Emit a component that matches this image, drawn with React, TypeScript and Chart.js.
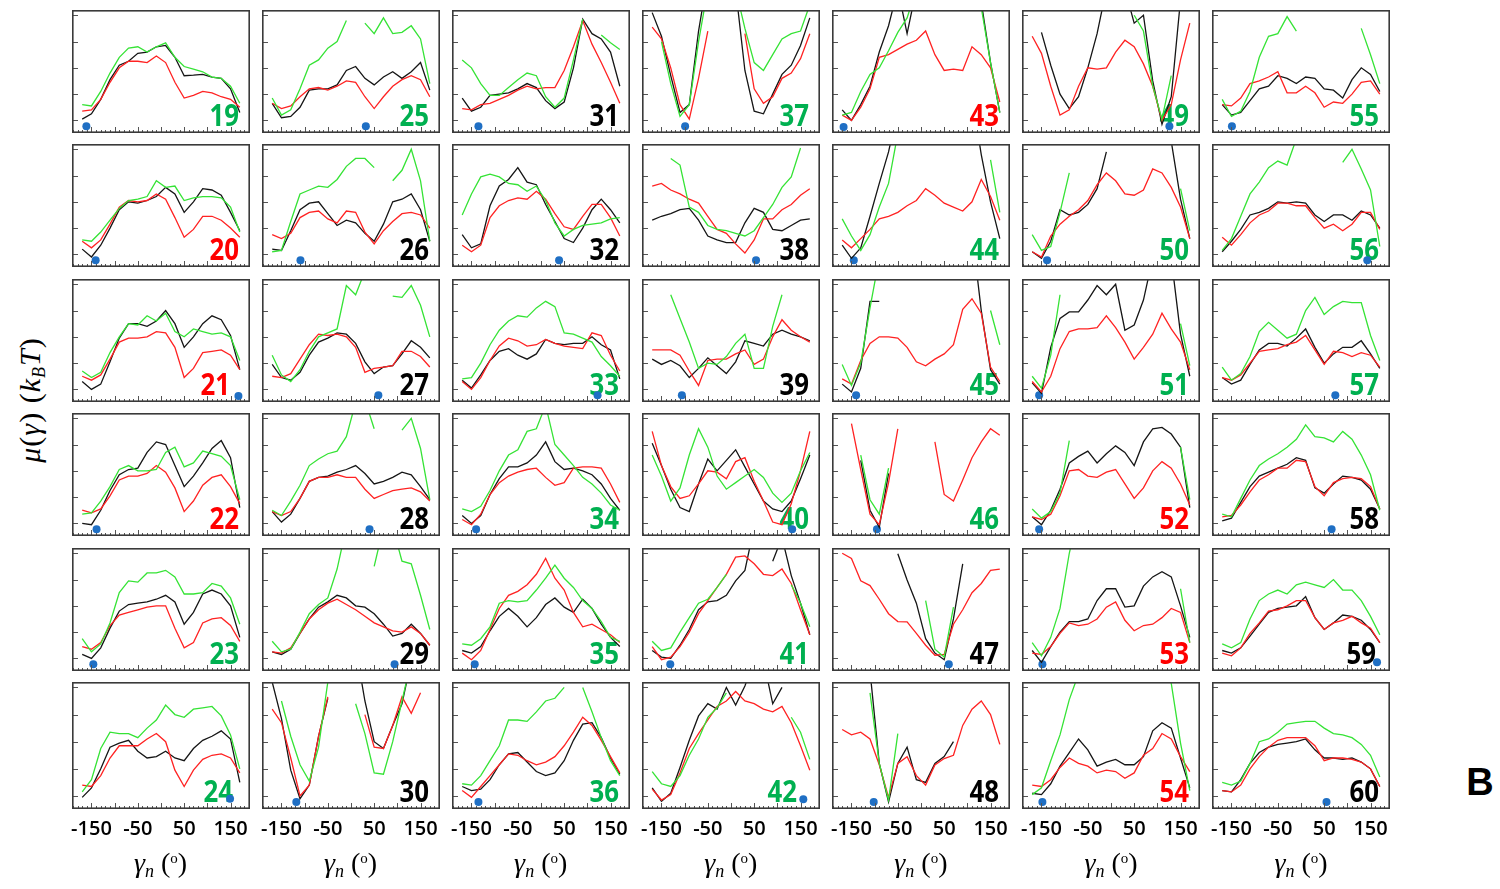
import React, { useEffect, useRef } from "react";
import { Chart, registerables } from "chart.js";
Chart.register(...registerables);

const _ = null;
const ANGLES = [-170, -150, -130, -110, -90, -70, -50, -30, -10, 10, 30, 50, 70, 90, 110, 130, 150, 170];
const X_TICK_LABELS = [-150, -50, 50, 150];
const Y_TICK_VALUES = [0, 1, 2, 3, 4];
const X_MIN = -192, X_MAX = 192, Y_MIN = -0.48, Y_MAX = 4.2;

// ---- series (black / red / green) per panel ----
const p19k = [0.05,0.25,0.8,1.55,2.1,2.25,2.55,2.6,2.8,2.85,2.4,1.7,1.72,1.75,1.65,1.6,1.2,0.3];
const p19r = [0.35,0.4,0.8,1.45,2.0,2.25,2.25,2.2,2.45,2.2,1.45,0.85,0.95,1.1,1.05,0.9,0.8,0.5];
const p19g = [0.6,0.55,1.1,1.8,2.4,2.75,2.8,2.6,2.8,2.95,2.4,2.05,1.95,1.85,1.65,1.6,1.3,0.65];
const p20k = [0.2,-0.1,0.35,1.0,1.7,2.0,1.95,2.05,2.2,2.55,2.3,1.6,2.0,2.5,2.45,2.25,1.6,0.9];
const p20r = [0.5,0.25,0.55,1.15,1.8,2.05,2.0,2.05,2.3,2.1,1.4,0.65,0.95,1.45,1.45,1.3,1.0,0.65];
const p20g = [0.55,0.5,0.85,1.3,1.75,2.05,2.1,2.2,2.8,2.55,2.6,2.05,2.15,2.2,2.2,2.15,1.8,0.85];
const p21k = [0.3,0.0,0.2,1.05,1.95,2.5,2.5,2.4,2.6,3.0,2.5,1.6,2.0,2.5,2.8,2.65,2.05,0.75];
const p21r = [0.5,0.35,0.55,1.15,1.8,1.95,1.95,2.0,2.2,2.15,1.6,0.45,0.8,1.4,1.45,1.5,1.3,0.75];
const p21g = [0.7,0.45,0.65,1.4,2.0,2.5,2.45,2.8,2.6,2.9,2.2,2.0,2.3,2.2,2.1,2.15,2.0,1.1];
const p22k = [0.0,-0.05,0.5,1.25,1.85,2.05,2.1,2.7,3.1,3.0,2.2,1.4,1.8,2.3,2.85,3.15,2.5,0.6];
const p22r = [0.5,0.4,0.55,1.05,1.65,1.8,1.8,1.9,2.2,1.95,1.35,0.45,0.85,1.45,1.75,1.85,1.4,0.75];
const p22g = [0.35,0.4,0.85,1.4,2.05,2.2,2.0,2.0,2.05,2.7,2.9,2.15,2.3,2.75,2.65,2.55,2.2,0.9];
const p23k = [0.15,0.0,0.4,1.15,1.8,2.05,2.1,2.15,2.25,2.4,2.15,1.3,1.75,2.45,2.6,2.45,2.0,0.8];
const p23r = [0.45,0.35,0.6,1.25,1.65,1.75,1.85,1.95,2.0,2.0,1.15,0.4,0.6,1.35,1.5,1.55,1.25,0.65];
const p23g = [0.75,0.25,0.55,1.35,2.5,2.95,2.9,3.25,3.25,3.35,3.1,2.45,2.45,2.5,2.85,2.75,2.3,1.3];
const p24k = [-0.05,0.3,1.0,1.8,1.95,2.05,1.65,1.4,1.45,1.65,1.4,1.3,1.75,2.05,2.2,2.4,2.1,0.5];
const p24r = [0.4,0.35,0.75,1.4,1.85,1.85,1.85,2.1,2.3,2.0,0.95,0.35,0.95,1.35,1.5,1.55,1.4,0.85];
const p24g = [0.15,0.6,1.75,2.35,2.3,2.3,2.15,2.5,2.8,3.35,3.0,2.9,3.2,3.25,3.3,2.95,2.25,1.0];
const p25k = [0.65,0.1,0.15,0.5,1.15,1.2,1.2,1.35,1.9,2.05,1.6,1.35,1.65,1.85,1.6,1.85,2.2,1.15];
const p25r = [0.65,0.45,0.55,0.9,1.2,1.25,1.15,1.3,1.5,1.45,0.9,0.45,0.9,1.3,1.55,1.7,1.55,0.9];
const p25g = [0.85,0.2,0.4,1.2,2.1,2.3,2.75,3.0,3.8,_,3.7,3.3,3.9,3.3,3.35,3.6,3.1,1.4];
const p26k = [0.2,0.15,0.9,1.7,1.95,2.0,1.55,1.1,1.3,1.2,0.8,0.5,1.15,2.0,2.1,2.3,1.7,0.5];
const p26r = [0.75,0.6,0.8,1.4,1.6,1.65,1.35,1.2,1.65,1.6,0.85,0.4,0.9,1.25,1.55,1.6,1.5,1.0];
const p26g = [0.1,0.15,1.25,2.3,2.45,2.6,2.55,2.85,3.35,3.65,3.65,3.3,_,2.8,3.2,4.0,2.8,0.5];
const p27k = [0.95,0.45,0.35,0.65,1.3,1.8,1.95,2.15,2.1,1.75,1.05,0.6,0.85,0.9,1.35,1.85,1.6,1.2];
const p27r = [0.5,0.45,0.6,1.15,1.7,2.1,2.05,2.1,2.0,1.6,0.65,0.8,0.85,0.9,1.45,1.45,1.25,0.85];
const p27g = [1.3,0.55,0.3,0.75,1.45,2.0,2.15,2.3,3.95,3.6,4.5,_,_,3.55,3.5,3.95,3.2,2.0];
const p28k = [0.45,0.05,0.35,0.95,1.6,1.75,1.8,1.95,2.05,2.2,1.9,1.5,1.6,1.75,1.95,1.85,1.4,0.9];
const p28r = [0.45,0.3,0.45,0.95,1.6,1.75,1.75,1.85,1.75,1.75,1.3,0.95,1.1,1.25,1.3,1.35,1.2,0.85];
const p28g = [0.5,0.3,0.85,1.45,2.2,2.45,2.65,2.75,3.3,4.6,4.7,3.6,_,_,3.55,4.0,2.85,0.9];
const p29k = [0.25,0.15,0.35,0.95,1.5,1.95,2.15,2.4,2.3,2.0,1.95,1.7,1.3,0.85,0.95,1.3,0.95,0.5];
const p29r = [0.25,0.2,0.4,0.95,1.5,1.85,2.1,2.25,2.05,1.85,1.6,1.35,1.2,1.05,1.0,1.2,0.95,0.5];
const p29g = [0.65,0.25,0.35,1.0,1.7,2.05,2.3,3.4,5,5,_,3.5,5,5,3.7,3.6,2.4,1.1];
const p30k = [4.2,2.85,0.95,-0.1,0.4,2.2,3.6,_,_,5.5,3.5,2.0,1.75,2.6,3.4,5,_,_];
const p30r = [3.2,2.7,1.4,0.0,0.4,2.2,3.65,_,_,_,3.0,1.8,1.75,2.6,3.65,3.05,3.8,_];
const p30g = [_,3.5,2.2,1.15,0.55,1.8,4.2,_,_,3.4,2.3,0.85,0.8,2.0,3.5,5,_,_];
const p31k = [0.85,0.35,0.5,0.95,1.0,1.05,1.2,1.4,1.25,0.75,0.45,0.7,2.0,3.85,3.3,3.1,2.6,1.3];
const p31r = [0.45,0.4,0.6,0.65,0.8,0.95,1.15,1.3,1.2,1.25,1.25,1.9,2.8,3.8,2.9,2.2,1.45,0.65];
const p31g = [2.3,2.0,1.4,0.95,0.95,1.25,1.55,1.8,1.7,0.9,0.5,0.85,2.3,3.85,_,3.25,2.95,2.7];
const p32k = [0.75,0.25,0.4,1.85,2.6,2.85,3.3,2.75,2.65,1.9,1.25,0.6,0.45,1.0,1.7,2.1,1.7,1.2];
const p32r = [0.35,0.1,0.35,1.4,1.85,2.05,2.15,2.1,2.4,2.1,1.55,1.05,0.95,1.45,1.9,1.9,1.4,0.7];
const p32g = [1.5,2.3,2.95,3.05,2.95,2.7,2.65,2.4,2.6,2.05,1.2,0.7,0.95,1.1,1.15,1.2,1.35,1.4];
const p33k = [0.35,0.05,0.55,1.1,1.45,1.55,1.3,1.15,1.35,1.9,1.75,1.7,1.75,1.75,2.0,1.7,1.5,0.4];
const p33r = [0.3,0.0,0.45,1.1,1.65,1.95,1.85,1.65,1.7,1.9,1.75,1.65,1.6,1.55,2.15,2.05,1.3,0.7];
const p33g = [0.4,0.45,1.0,1.7,2.25,2.6,2.8,2.75,3.1,3.35,3.15,2.15,2.1,1.95,1.8,1.25,0.9,0.5];
const p34k = [0.3,0.0,0.3,1.1,1.7,2.15,2.15,2.3,2.6,3.1,2.35,2.05,2.1,2.0,1.85,1.5,0.95,0.5];
const p34r = [0.15,-0.05,0.35,1.1,1.55,1.8,1.95,2.05,2.1,1.75,1.45,1.55,2.1,2.15,2.15,2.1,1.5,0.8];
const p34g = [0.55,0.45,0.65,1.25,2.0,2.6,2.8,3.5,3.6,4.5,3.0,2.6,2.2,1.75,1.5,1.15,0.7,0.5];
const p35k = [0.3,0.2,0.45,1.05,1.6,1.9,1.6,1.2,1.55,2.05,2.3,1.95,1.75,2.25,1.9,1.3,0.8,0.45];
const p35r = [0.2,-0.05,0.3,1.1,1.9,2.4,2.55,2.8,3.2,3.8,3.05,2.6,1.75,1.2,1.3,1.1,0.9,0.6];
const p35g = [0.55,0.5,0.75,1.2,2.1,2.2,2.15,2.2,2.6,3.05,3.55,3.05,2.7,2.2,1.9,1.4,0.8,0.65];
const p36k = [0.35,0.2,0.25,0.6,1.15,1.55,1.6,1.25,0.9,0.75,0.85,1.3,2.05,2.65,2.7,2.15,1.4,0.8];
const p36r = [0.2,-0.05,0.35,0.75,1.15,1.55,1.5,1.3,1.15,1.25,1.45,1.85,2.35,2.9,2.6,2.05,1.45,0.85];
const p36g = [0.45,0.4,0.75,1.3,1.85,2.8,2.8,2.75,3.1,3.5,3.6,4.0,_,4.0,3.1,2.15,1.3,0.75];
const p37k = [4.1,3.2,1.7,0.3,0.6,3.4,5.5,6,6,5,1.9,0.35,0.25,1.0,1.75,2.1,2.85,3.9];
const p37r = [3.55,3.1,2.0,0.6,0.05,1.6,3.4,_,_,_,3.3,1.2,0.65,0.9,1.6,1.8,2.35,3.3];
const p37g = [_,3.0,1.4,0.15,0.6,3.0,5,6,6,5,3.5,2.2,1.9,2.5,3.1,3.3,3.4,4.4];
const p38k = [1.3,1.45,1.55,1.7,1.75,1.3,0.7,0.55,0.45,0.45,1.2,1.75,1.6,0.95,0.9,1.1,1.3,1.35];
const p38r = [2.6,2.7,2.45,2.3,2.1,1.95,1.45,0.95,0.8,0.4,0.05,0.55,1.35,1.35,1.7,1.9,2.25,2.5];
const p38g = [_,_,3.65,3.4,1.8,1.6,1.1,0.95,0.9,0.8,0.7,0.9,1.4,1.9,2.55,2.95,4.05,_];
const p39k = [1.15,0.95,1.1,0.9,0.45,0.8,1.2,0.9,0.6,1.05,1.85,1.75,1.65,2.1,2.25,2.1,2.0,1.85];
const p39r = [1.5,1.5,1.5,1.3,0.7,0.15,1.1,1.15,1.15,1.35,1.5,0.95,1.15,2.0,2.65,2.25,2.0,1.8];
const p39g = [_,_,3.6,2.7,1.8,0.8,1.0,0.95,1.25,1.75,2.1,0.8,0.8,2.4,3.6,_,_,_];
const p40k = [3.05,2.2,1.3,0.6,0.45,1.5,2.45,2.0,2.4,2.8,2.15,1.5,0.85,0.55,0.45,0.85,1.7,2.6];
const p40r = [3.5,2.2,1.4,0.95,1.05,1.5,2.0,1.95,1.7,2.35,2.5,1.6,0.85,0.05,-0.05,0.75,2.0,3.5];
const p40g = [2.6,1.8,0.85,1.35,2.6,3.6,2.9,1.8,1.3,1.55,1.8,2.05,1.75,1.15,0.8,1.15,2.0,2.7];
const p41k = [0.3,0.05,0.0,0.5,1.1,1.85,2.15,2.2,2.4,2.95,3.35,5,_,3.7,4.6,3.15,2.1,0.9];
const p41r = [0.45,-0.05,0.05,0.45,1.0,1.7,2.2,2.7,3.2,3.85,3.9,3.6,3.2,3.15,3.4,2.85,1.85,0.9];
const p41g = [0.65,0.3,0.4,1.0,1.55,2.1,2.25,2.7,3.2,_,_,_,_,_,_,2.8,2.1,1.2];
const p42k = [0.3,-0.2,0.1,1.05,2.05,2.95,3.4,3.2,4.0,3.35,4.05,5,5,3.4,4.0,_,_,_];
const p42r = [0.25,-0.15,0.05,0.85,1.75,2.3,2.8,3.3,3.5,3.85,3.5,3.4,3.2,3.1,3.3,2.7,1.85,0.95];
const p42g = [0.9,0.45,0.35,0.75,1.5,2.1,2.9,3.25,3.8,_,_,_,_,_,_,2.9,2.35,1.35];
const p43k = [0.4,0.0,0.6,1.3,2.6,3.6,5,3.3,5,5,5,_,_,_,_,4.5,2.2,0.3];
const p43r = [0.2,0.0,0.5,1.2,2.4,2.5,2.7,2.9,3.05,3.4,2.5,1.9,1.95,1.9,2.8,2.5,2.0,0.7];
const p43g = [0.2,0.3,1.1,1.75,2.0,2.65,3.35,3.9,5,_,_,_,_,_,_,4.3,2.2,0.3];
const p44k = [0.35,-0.15,0.25,1.45,2.7,3.9,5.5,_,_,_,_,_,_,_,6,3.8,2.0,0.6];
const p44r = [0.55,0.25,0.6,0.95,1.35,1.45,1.6,1.85,2.05,2.5,2.25,1.95,1.8,1.65,2.0,2.85,2.2,1.3];
const p44g = [1.35,0.7,0.15,0.75,1.8,2.7,4.6,_,_,_,_,_,_,_,_,_,3.6,1.6];
const p45k = [0.2,-0.1,0.8,3.35,3.35,_,_,_,_,_,_,_,_,_,6,3.0,0.75,0.2];
const p45r = [0.4,0.2,1.1,1.75,2.0,2.0,1.95,1.6,1.05,0.9,1.15,1.35,1.7,3.05,3.45,2.9,0.85,0.3];
const p45g = [0.95,0.15,1.0,3.1,5,_,_,_,_,_,_,_,_,_,_,_,3.0,1.7];
const p46k = [_,_,2.4,0.5,-0.15,1.9,_,_,_,_,_,_,_,_,_,_,_,_];
const p46r = [_,3.8,2.05,0.35,-0.05,1.55,3.6,_,_,_,3.1,1.1,0.85,1.65,2.5,3.1,3.6,3.35];
const p46g = [_,_,2.6,0.9,0.35,2.1,_,_,_,_,_,_,_,_,_,_,_,_];
const p47k = [_,_,_,_,_,_,3.98,2.98,2.1,0.75,0.2,-0.05,1.5,3.6,_,_,_,_];
const p47r = [4.0,3.8,2.95,2.77,2.25,1.7,1.4,1.39,0.95,0.5,0.12,0.15,1.3,1.85,2.5,2.85,3.35,3.4];
const p47g = [_,_,_,_,_,_,_,_,_,2.2,0.35,0.05,1.95,_,_,_,_,_];
const p48k = [_,_,_,4.6,1.2,-0.22,1.2,1.8,0.6,0.5,1.2,1.45,2.0,_,_,_,_,_];
const p48r = [2.45,2.25,2.35,2.1,1.15,-0.05,1.2,1.45,0.75,0.4,1.14,1.38,1.5,2.6,3.2,3.5,3.0,1.9];
const p48g = [_,_,_,3.8,1.2,-0.15,2.3,_,_,_,_,_,_,_,_,_,_,_];
const p49k = [_,3.35,2.1,1.0,0.45,0.9,2.0,3.3,5,5,5,3.7,4.0,1.5,-0.15,0.9,4.6,_];
const p49r = [3.2,2.55,1.3,0.2,0.4,1.3,2.0,1.95,2.0,2.6,3.05,2.8,2.15,1.3,0.0,0.6,2.3,3.7];
const p49g = [_,_,_,_,_,_,_,_,_,_,_,4.0,3.4,1.3,0.05,1.7,_,_];
const p50k = [0.1,-0.15,0.5,1.7,1.5,1.6,1.9,2.5,3.9,_,_,_,_,_,_,4.3,2.1,0.6];
const p50r = [0.1,-0.1,0.7,1.15,1.45,1.7,2.05,2.65,3.1,2.8,2.3,2.25,2.45,3.25,3.1,2.55,1.8,0.6];
const p50g = [0.75,0.15,0.3,1.6,3.1,_,_,_,_,_,_,_,_,_,_,_,2.5,0.9];
const p51k = [0.25,-0.15,1.6,2.7,2.95,2.95,3.4,3.95,3.6,4.0,2.25,2.45,3.4,5,_,5,2.1,0.5];
const p51r = [0.3,-0.1,0.5,1.55,2.2,2.3,2.3,2.35,2.8,2.35,1.8,1.15,1.6,2.1,2.9,2.3,1.8,0.75];
const p51g = [0.5,0.05,1.3,3.6,_,_,_,_,_,_,_,_,_,_,_,_,2.5,0.9];
const p52k = [0.25,-0.05,0.5,1.3,2.3,2.55,2.75,2.3,2.65,2.95,2.7,2.2,3.1,3.6,3.65,3.4,2.9,0.6];
const p52r = [0.25,0.15,0.35,1.05,2.0,2.05,1.8,1.75,1.95,2.05,1.5,0.95,1.35,2.0,2.35,2.1,1.5,0.7];
const p52g = [0.55,0.2,0.45,1.15,3.15,_,_,_,_,_,_,_,_,_,_,_,2.9,0.9];
const p53k = [0.3,-0.15,0.45,1.0,1.4,1.4,1.5,2.2,2.65,2.65,1.95,2.0,2.75,3.1,3.3,3.1,2.0,0.8];
const p53r = [0.2,0.15,0.45,0.95,1.35,1.25,1.3,1.5,1.95,2.15,1.45,1.05,1.25,1.3,1.55,1.9,1.75,0.6];
const p53g = [0.6,0.1,0.8,1.9,4.0,5.5,_,_,_,_,_,_,_,_,_,_,2.65,0.6];
const p54k = [0.1,0.05,0.45,1.1,1.6,2.1,1.7,1.1,1.25,1.35,1.15,1.15,1.45,2.4,2.7,2.5,1.4,0.3];
const p54r = [0.4,0.35,0.6,1.05,1.4,1.2,1.1,0.85,0.95,0.9,0.65,0.85,1.5,1.75,2.3,2.1,1.45,0.9];
const p54g = [0.05,0.3,1.3,2.25,3.55,4.5,_,_,_,_,_,_,_,_,5,4.15,1.95,0.2];
const p55k = [0.6,0.2,0.3,0.75,1.2,1.3,1.7,1.6,1.4,1.65,1.6,1.2,1.15,0.85,1.55,2.0,1.75,1.1];
const p55r = [0.6,0.55,0.85,1.4,1.5,1.65,1.85,1.05,1.05,1.3,1.05,0.5,0.7,0.65,1.0,1.45,1.5,1.0];
const p55g = [0.8,0.15,0.35,1.1,2.4,3.2,3.3,3.95,3.4,_,_,_,_,_,_,3.5,2.5,1.4];
const p56k = [0.1,0.5,0.95,1.5,1.6,1.75,2.0,1.95,2.0,1.95,1.5,1.25,1.5,1.5,1.3,1.65,1.5,1.0];
const p56r = [0.65,0.35,0.75,1.2,1.5,1.65,1.95,1.95,1.85,1.85,1.4,1.0,1.15,0.9,1.15,1.6,1.6,0.95];
const p56g = [0.15,0.6,1.45,2.3,2.75,3.3,3.55,3.4,4.4,_,_,_,_,3.5,4.0,3.25,2.45,0.3];
const p57k = [0.45,0.2,0.35,0.95,1.5,1.75,1.75,1.65,1.95,2.3,1.6,1.0,1.35,1.6,1.6,1.85,1.35,0.8];
const p57r = [0.45,0.35,0.55,1.0,1.45,1.5,1.55,1.7,1.8,2.05,1.5,0.95,1.45,1.4,1.25,1.4,1.3,0.85];
const p57g = [0.85,0.35,0.6,1.25,2.2,2.55,2.25,1.95,2.1,3.0,3.5,2.85,3.15,3.35,3.3,3.3,2.05,1.1];
const p58k = [0.1,0.2,0.8,1.4,1.8,1.95,2.1,2.25,2.5,2.4,1.35,1.15,1.5,1.8,1.75,1.65,1.3,0.55];
const p58r = [0.25,0.3,0.7,1.2,1.65,1.85,2.1,2.1,2.4,2.35,1.4,1.05,1.55,1.7,1.75,1.7,1.4,0.55];
const p58g = [0.35,0.25,0.95,1.65,2.2,2.45,2.65,2.9,3.2,3.75,3.3,3.25,3.1,3.5,3.2,2.6,1.85,0.5];
const p59k = [0.3,0.2,0.4,0.85,1.3,1.75,1.9,1.95,2.0,2.35,1.55,1.1,1.35,1.65,1.6,1.45,1.1,0.6];
const p59r = [0.2,0.1,0.4,0.95,1.35,1.8,1.85,2.0,2.2,2.2,1.55,1.1,1.35,1.45,1.6,1.35,1.15,0.6];
const p59g = [0.55,0.4,0.6,1.5,2.2,2.45,2.6,2.45,2.8,2.9,2.8,2.7,3.0,2.6,2.6,2.2,1.6,0.9];
const p60k = [0.2,0.15,0.6,1.2,1.6,1.8,1.9,1.95,2.0,2.1,1.7,1.4,1.4,1.35,1.4,1.25,1.0,0.35];
const p60r = [0.2,0.15,0.4,1.0,1.45,1.8,2.05,2.15,2.15,2.15,1.85,1.3,1.4,1.4,1.35,1.25,1.0,0.35];
const p60g = [0.5,0.4,0.55,1.2,2.0,2.1,2.35,2.65,2.7,2.75,2.75,2.5,2.3,2.25,2.15,1.9,1.5,0.7];

// panel order: column by column, 19..60
const PANEL_NUMBERS = [19,20,21,22,23,24,25,26,27,28,29,30,31,32,33,34,35,36,37,38,39,40,41,42,43,44,45,46,47,48,49,50,51,52,53,54,55,56,57,58,59,60];
const BLACK = [p19k,p20k,p21k,p22k,p23k,p24k,p25k,p26k,p27k,p28k,p29k,p30k,p31k,p32k,p33k,p34k,p35k,p36k,p37k,p38k,p39k,p40k,p41k,p42k,p43k,p44k,p45k,p46k,p47k,p48k,p49k,p50k,p51k,p52k,p53k,p54k,p55k,p56k,p57k,p58k,p59k,p60k];
const RED = [p19r,p20r,p21r,p22r,p23r,p24r,p25r,p26r,p27r,p28r,p29r,p30r,p31r,p32r,p33r,p34r,p35r,p36r,p37r,p38r,p39r,p40r,p41r,p42r,p43r,p44r,p45r,p46r,p47r,p48r,p49r,p50r,p51r,p52r,p53r,p54r,p55r,p56r,p57r,p58r,p59r,p60r];
const GREEN = [p19g,p20g,p21g,p22g,p23g,p24g,p25g,p26g,p27g,p28g,p29g,p30g,p31g,p32g,p33g,p34g,p35g,p36g,p37g,p38g,p39g,p40g,p41g,p42g,p43g,p44g,p45g,p46g,p47g,p48g,p49g,p50g,p51g,p52g,p53g,p54g,p55g,p56g,p57g,p58g,p59g,p60g];
const LABEL_COLOR_KEYS = ["g","r","r","r","g","g","g","k","k","k","k","k","k","k","g","g","g","g","g","k","k","g","g","g","r","g","g","g","k","k","g","g","g","r","r","r","g","g","g","k","k","k"];
const LABEL_SHIFT = [0,0,9,0,0,6,0,0,0,0,0,0,0,0,0,0,0,0,0,0,0,0,0,12,0,0,0,0,0,0,0,0,0,0,0,0,0,0,0,0,3,0];
const DOT_X = [-161,-141,167,-139,-146,149,32,-109,59,40,94,-118,-135,39,122,-140,-143,-135,-99,54,-106,132,-131,156,-167,-145,-140,-95,60,-102,126,-138,-155,-155,-148,-148,-149,143,74,66,164,55];
const DOT_Y = [-0.22,-0.22,-0.25,-0.22,-0.22,-0.1,-0.22,-0.22,-0.22,-0.22,-0.22,-0.22,-0.22,-0.22,-0.22,-0.22,-0.22,-0.22,-0.22,-0.22,-0.22,-0.22,-0.22,-0.12,-0.25,-0.22,-0.22,-0.22,-0.22,-0.22,-0.22,-0.22,-0.22,-0.22,-0.22,-0.22,-0.22,-0.22,-0.22,-0.22,-0.15,-0.22];

const LABEL_COLORS: Record<string, string> = { g: "#00b050", r: "#ff0000", k: "#000000" };
const LINE_BLACK = "#151515";
const LINE_RED = "#ff2222";
const LINE_GREEN = "#35e335";
const DOT_COLOR = "#1f6fc4";

// layout
const COL_X0 = 67.5, COL_STEP = 190.1, ROW_Y0 = 6, ROW_STEP = 134.4;
const PANEL_W = 186, PANEL_H = 131, BOTTOM_EXTRA = 34;

function toPoints(vals: (number | null)[]) {
  return ANGLES.map((a, i) => ({ x: a, y: vals[i] === undefined ? null : vals[i] }));
}

function Panel({ index }: { index: number }) {
  const ref = useRef<HTMLCanvasElement>(null);
  const col = Math.floor(index / 6);
  const row = index % 6;
  const isBottom = row === 5;
  const left = Math.round(COL_X0 + COL_STEP * col);
  const top = Math.round(ROW_Y0 + ROW_STEP * row);
  const h = PANEL_H + (isBottom ? BOTTOM_EXTRA : 0);

  useEffect(() => {
    const label = String(PANEL_NUMBERS[index]);
    const labelColor = LABEL_COLORS[LABEL_COLOR_KEYS[index]];
    const shift = LABEL_SHIFT[index];
    const deco = {
      id: "panelDeco",
      beforeDatasetsDraw(chart: any) {
        const { ctx, chartArea: a } = chart;
        ctx.save();
        ctx.translate(a.right - 11 - shift, a.bottom - 7);
        ctx.scale(0.86, 1);
        ctx.font = 'bold 30px "Open Sans", sans-serif';
        ctx.fillStyle = labelColor;
        ctx.textAlign = "right";
        ctx.textBaseline = "alphabetic";
        ctx.fillText(label, 0, 0);
        ctx.restore();
      },
      afterDatasetsDraw(chart: any) {
        const { ctx, chartArea: a, scales } = chart;
        const xs = scales.x, ys = scales.y;
        ctx.save();
        ctx.strokeStyle = "#555";
        ctx.lineWidth = 1;
        ctx.beginPath();
        for (let v = -190; v <= 190; v += 10) {
          const px = Math.round(xs.getPixelForValue(v)) + 0.5;
          const len = v % 50 === 0 ? 6 : 3;
          ctx.moveTo(px, a.bottom);
          ctx.lineTo(px, a.bottom - len);
        }
        for (const v of Y_TICK_VALUES) {
          const py = Math.round(ys.getPixelForValue(v)) + 0.5;
          ctx.moveTo(a.left, py);
          ctx.lineTo(a.left + 6, py);
        }
        ctx.stroke();
        ctx.strokeStyle = "#3a3a3a";
        ctx.lineWidth = 1.6;
        ctx.strokeRect(a.left + 0.8, a.top + 0.8, a.right - a.left - 1.6, a.bottom - a.top - 1.6);
        if (isBottom) {
          ctx.font = '600 20px "Open Sans", sans-serif';
          ctx.fillStyle = "#000";
          ctx.textAlign = "center";
          ctx.textBaseline = "middle";
          for (const t of X_TICK_LABELS) {
            ctx.fillText(String(t), xs.getPixelForValue(t), a.bottom + 20);
          }
        }
        ctx.restore();
      },
    };
    const lineDs = (vals: (number | null)[], color: string) => ({
      data: toPoints(vals),
      borderColor: color,
      backgroundColor: color,
      borderWidth: 1.3,
      pointRadius: 0,
      tension: 0,
      spanGaps: false,
      fill: false,
    });
    const chart = new Chart(ref.current as HTMLCanvasElement, {
      type: "line",
      data: {
        datasets: [
          lineDs(GREEN[index], LINE_GREEN),
          lineDs(RED[index], LINE_RED),
          lineDs(BLACK[index], LINE_BLACK),
          {
            data: [{ x: DOT_X[index], y: DOT_Y[index] }],
            showLine: false,
            pointRadius: 4,
            pointBackgroundColor: DOT_COLOR,
            pointBorderWidth: 0,
            borderColor: DOT_COLOR,
          } as any,
        ],
      },
      options: {
        animation: false,
        responsive: false,
        maintainAspectRatio: false,
        events: [],
        layout: { padding: { left: 0, right: 0, top: 0, bottom: isBottom ? BOTTOM_EXTRA : 0 } },
        plugins: { legend: { display: false }, tooltip: { enabled: false } },
        scales: {
          x: { type: "linear", min: X_MIN, max: X_MAX, display: false },
          y: { type: "linear", min: Y_MIN, max: Y_MAX, display: false },
        },
      },
      plugins: [deco],
    });
    return () => chart.destroy();
  }, [index]);

  return (
    <canvas
      ref={ref}
      width={PANEL_W}
      height={h}
      style={{ position: "absolute", left, top, width: PANEL_W, height: h, display: "block" }}
    />
  );
}

export default function App() {
  const cols = [0, 1, 2, 3, 4, 5, 6];
  return (
    <div style={{ position: "absolute", left: 0, top: 0, width: 1500, height: 889, background: "#fff", overflow: "hidden" }}>
      {PANEL_NUMBERS.map((_n, i) => (
        <Panel key={i} index={i} />
      ))}
      {cols.map((c) => {
        const cx = COL_X0 + COL_STEP * c + PANEL_W / 2;
        return (
          <div
            key={"xt" + c}
            style={{
              position: "absolute",
              left: cx - 90,
              width: 180,
              top: 841,
              height: 34,
              lineHeight: "34px",
              textAlign: "center",
              fontFamily: '"Liberation Serif", "DejaVu Serif", serif',
              fontSize: 28,
              color: "#000",
              whiteSpace: "nowrap",
            }}
          >
            <i>γ<sub style={{ fontSize: 18, verticalAlign: "-5px" }}>n</sub></i>
            {" ("}
            <sup style={{ fontSize: 15, verticalAlign: "9px" }}>o</sup>
            {")"}
          </div>
        );
      })}
      <div
        style={{
          position: "absolute",
          left: 30 - 110,
          top: 400 - 20,
          width: 220,
          height: 40,
          lineHeight: "40px",
          textAlign: "center",
          transform: "rotate(-90deg)",
          transformOrigin: "50% 50%",
          fontFamily: '"Liberation Serif", "DejaVu Serif", serif',
          fontSize: 30,
          color: "#000",
          whiteSpace: "nowrap",
          letterSpacing: 1,
        }}
      >
        <i>μ</i>(<i>γ</i>) (<i>k</i>
        <sub style={{ fontSize: 18, verticalAlign: "-5px" }}><i>B</i></sub>
        <i>T</i>)
      </div>
      <div
        style={{
          position: "absolute",
          left: 1455,
          top: 760,
          width: 50,
          height: 44,
          lineHeight: "44px",
          textAlign: "center",
          fontFamily: '"Liberation Sans", Arial, sans-serif',
          fontWeight: "bold",
          fontSize: 38,
          color: "#000",
        }}
      >
        B
      </div>
    </div>
  );
}
